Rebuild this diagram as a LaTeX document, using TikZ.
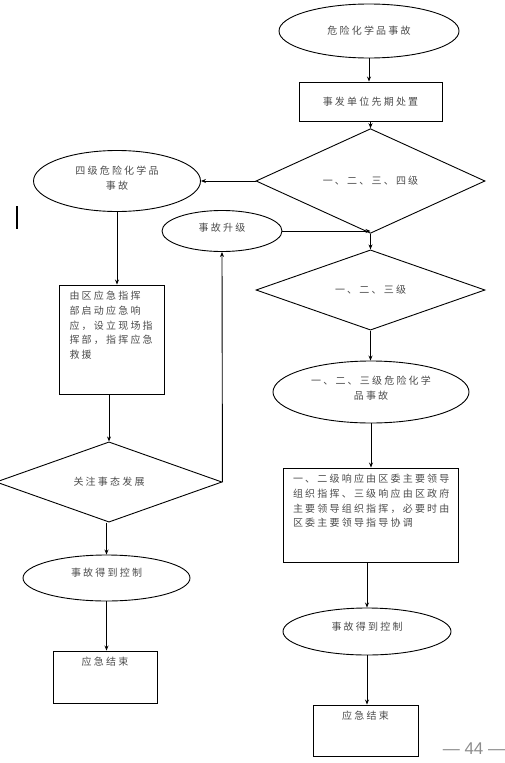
\documentclass[tikz,border=0pt]{standalone}
\usepackage{fontspec}
\setmainfont{Noto Sans CJK SC}[LetterSpace=22]
\newfontfamily\yemafont{Liberation Sans}
\usetikzlibrary{arrows.meta,shapes.geometric}
\tikzset{
  tuoyuan/.style={ellipse,draw,inner sep=0pt,align=center},
  lingxing/.style={diamond,draw,inner sep=0pt},
  kuang/.style={draw,inner sep=0pt},
  wenkuang/.style={draw,inner xsep=10pt,inner ysep=6pt},
  jiantou/.style={-{Stealth[length=5pt,width=4pt]}},
}
\begin{document}
\begin{tikzpicture}[x=1pt,y=-1pt,line width=0.9pt,
  font=\fontsize{10}{14.8}\selectfont,text=black!70]
  \useasboundingbox (0,0) rectangle (505,763);
  % right column
  \node[tuoyuan,minimum width=180pt,minimum height=54pt] (shigu) at (369,31) {危险化学品事故};
  \node[kuang,minimum width=143pt,minimum height=39pt] (xianqi) at (370.5,101.5) {事发单位先期处置};
  \node[lingxing,minimum width=229pt,minimum height=65pt] (pan1) at (370.5,181) {一、二、三、四级};
  \node[lingxing,minimum width=229pt,minimum height=69pt] (pan2) at (370.5,290) {一、二、三级};
  \node[tuoyuan,minimum width=196pt,minimum height=62pt,text depth=9pt] (sanji) at (371,392)
    {一、二、三级危险化学\\品事故};
  \node[wenkuang] (lingdao) at (370.5,515)
    {\parbox[c][82pt][t]{155pt}{一、二级响应由区委主要领导\\组织指挥、三级响应由区政府\\主要领导组织指挥，必要时由\\区委主要领导指导协调}};
  \node[tuoyuan,minimum width=168pt,minimum height=47pt,text depth=11.2pt] (kongzhi2) at (367,631.5) {事故得到控制};
  \node[wenkuang] (jieshu2) at (365.5,730.5) {\parbox[c][39pt][t]{85pt}{\centering 应急结束}};
  % left column
  \node[tuoyuan,minimum width=167pt,minimum height=61pt,text depth=6pt] (siji) at (117,181)
    {四级危险化学品\\事故};
  \node[tuoyuan,minimum width=120pt,minimum height=41pt,text depth=7.2pt] (shengji) at (222,231) {事故升级};
  \node[wenkuang] (quying) at (112,339.5)
    {\parbox[c][97pt][t]{85pt}{由区应急指挥\\部启动应急响\\应，设立现场指\\挥部，指挥应急\\救援}};
  \node[lingxing,minimum width=226pt,minimum height=66pt] (guanzhu) at (109,482) {关注事态发展};
  \node[tuoyuan,minimum width=167pt,minimum height=46pt,text depth=11.2pt] (kongzhi1) at (106.5,578) {事故得到控制};
  \node[wenkuang] (jieshu1) at (105,677) {\parbox[c][40pt][t]{84pt}{\centering 应急结束}};
  \coordinate (hui) at (pan1.south |- shengji.east);
  % connectors
  \draw[jiantou] (shigu.south) -- (shigu.south |- xianqi.north);
  \draw[jiantou] (pan1.north |- xianqi.south) -- (pan1.north);
  \draw[jiantou] (pan1.west) -- (siji.east);
  \draw[jiantou] (pan1.south) -- (pan2.north);
  \draw[jiantou] (shengji.east) -- (hui);
  \draw[jiantou] (pan2.south) -- (pan2.south |- sanji.north);
  \draw[jiantou] (sanji.south) -- (sanji.south |- lingdao.north);
  \draw[jiantou] (kongzhi2.north |- lingdao.south) -- (kongzhi2.north);
  \draw[jiantou] (kongzhi2.south) -- (kongzhi2.south |- jieshu2.north);
  \draw[jiantou] (siji.south) -- (siji.south |- quying.north);
  \draw[jiantou] (guanzhu.north |- quying.south) -- (guanzhu.north);
  \draw[jiantou] (guanzhu.east) -- (shengji.south);
  \draw[jiantou] (kongzhi1.north |- guanzhu.south) -- (kongzhi1.north);
  \draw[jiantou] (kongzhi1.south) -- (kongzhi1.south |- jieshu1.north);
  \draw[line width=2pt] (17,206) -- (17,229);
  \node[text=black!45,font=\yemafont\fontsize{17}{17}\selectfont] (yema) at (474,749) {— 44 —};
\end{tikzpicture}
\end{document}
